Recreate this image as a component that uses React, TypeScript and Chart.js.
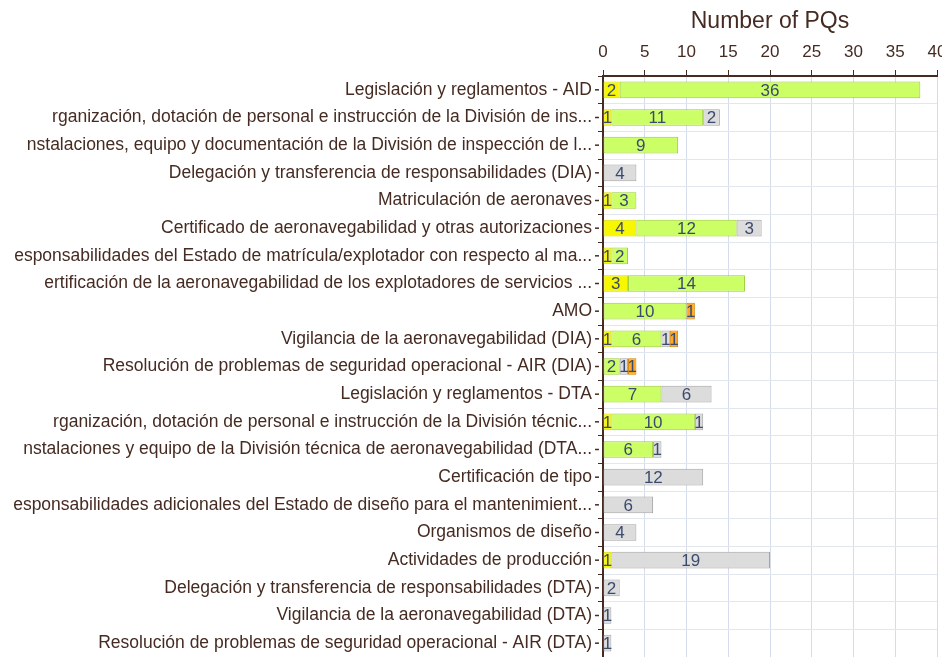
import React, { useEffect, useRef } from "react";
import { Chart, registerables } from "chart.js";

Chart.register(...registerables);

const categories = [
  "Legislación y reglamentos - AID",
  "rganización, dotación de personal e instrucción de la División de ins...",
  "nstalaciones, equipo y documentación de la División de inspección de l...",
  "Delegación y transferencia de responsabilidades (DIA)",
  "Matriculación de aeronaves",
  "Certificado de aeronavegabilidad y otras autorizaciones",
  "esponsabilidades del Estado de matrícula/explotador con respecto al ma...",
  "ertificación de la aeronavegabilidad de los explotadores de servicios ...",
  "AMO",
  "Vigilancia de la aeronavegabilidad (DIA)",
  "Resolución de problemas de seguridad operacional - AIR (DIA)",
  "Legislación y reglamentos - DTA",
  "rganización, dotación de personal e instrucción de la División técnic...",
  "nstalaciones y equipo de la División técnica de aeronavegabilidad (DTA...",
  "Certificación de tipo",
  "esponsabilidades adicionales del Estado de diseño para el mantenimient...",
  "Organismos de diseño",
  "Actividades de producción",
  "Delegación y transferencia de responsabilidades (DTA)",
  "Vigilancia de la aeronavegabilidad (DTA)",
  "Resolución de problemas de seguridad operacional - AIR (DTA)",
];

const yellowValues = [2, 1, 0, 0, 1, 4, 1, 3, 0, 1, 0, 0, 1, 0, 0, 0, 0, 1, 0, 0, 0];
const greenValues = [36, 11, 9, 0, 3, 12, 2, 14, 10, 6, 2, 7, 10, 6, 0, 0, 0, 0, 0, 0, 0];
const grayValues = [0, 2, 0, 4, 0, 3, 0, 0, 0, 1, 1, 6, 1, 1, 12, 6, 4, 19, 2, 1, 1];
const orangeValues = [0, 0, 0, 0, 0, 0, 0, 0, 1, 1, 1, 0, 0, 0, 0, 0, 0, 0, 0, 0, 0];

const xTicks = [0, 5, 10, 15, 20, 25, 30, 35, 40];

const TEXT = "#452b22";
const FONT = "'Liberation Sans', Arial, sans-serif";

const labelPlugin = {
  id: "segLabels",
  afterDatasetsDraw(chart: any) {
    const ctx = chart.ctx;
    ctx.save();
    ctx.font = `17px ${FONT}`;
    ctx.fillStyle = "#3c4a6e";
    ctx.textAlign = "center";
    ctx.textBaseline = "middle";
    chart.data.datasets.forEach((ds: any, di: number) => {
      const meta = chart.getDatasetMeta(di);
      meta.data.forEach((bar: any, i: number) => {
        const v = ds.data[i];
        if (!v) return;
        const cx = (bar.x + bar.base) / 2;
        ctx.fillText(String(v), cx, bar.y + 1);
      });
    });
    const ys = chart.scales.y;
    ctx.strokeStyle = TEXT;
    ctx.lineWidth = 1.5;
    categories.forEach((_, i) => {
      const y = ys.getPixelForValue(i);
      ctx.beginPath();
      ctx.moveTo(ys.right - 8, y);
      ctx.lineTo(ys.right - 4, y);
      ctx.stroke();
    });
    ctx.restore();
  },
};

export default function App() {
  const ref = useRef<HTMLCanvasElement | null>(null);
  useEffect(() => {
    if (!ref.current) return;
    const mk = (label: string, data: number[], bg: string, bd: string) => ({
      label,
      data,
      backgroundColor: bg,
      borderColor: bd,
      borderWidth: 1,
      borderSkipped: false,
      barPercentage: 0.6,
      categoryPercentage: 1,
    });
    const chart = new Chart(ref.current, {
      type: "bar",
      data: {
        labels: categories,
        datasets: [
          mk("Series 1", yellowValues, "#f7f700", "#d8d800"),
          mk("Series 2", greenValues, "#ccff66", "#9acd32"),
          mk("Series 3", grayValues, "#dcdcdc", "#a4a4a4"),
          mk("Series 4", orangeValues, "#ffa726", "#d08000"),
        ],
      },
      options: {
        indexAxis: "y",
        animation: false,
        responsive: true,
        maintainAspectRatio: false,
        layout: { padding: 0 },
        plugins: { legend: { display: false }, tooltip: { enabled: false } },
        scales: {
          x: {
            position: "top",
            stacked: true,
            min: 0,
            max: 40,
            afterBuildTicks: (s: any) => {
              s.ticks = xTicks.map((v) => ({ value: v }));
            },
            afterFit: (s: any) => {
              s.paddingRight = 5;
              s.paddingLeft = 0;
            },
            title: {
              display: true,
              text: "Number of PQs",
              color: TEXT,
              font: { size: 23, family: FONT },
              padding: { top: 8, bottom: 0 },
            },
            ticks: { color: TEXT, font: { size: 17, family: FONT }, padding: 7 },
            grid: { color: "#d5dcec", tickColor: TEXT, tickLength: 6, lineWidth: 1 },
            border: { color: TEXT, width: 2 },
          },
          y: {
            stacked: true,
            afterFit: (s: any) => {
              s.width = 603;
              s.paddingTop = 0;
              s.paddingBottom = 0;
            },
            ticks: { color: TEXT, font: { size: 17.5, family: FONT }, padding: 6, autoSkip: false },
            grid: { color: "#e2e6ee", tickColor: TEXT, tickLength: 5, offset: true, lineWidth: 1 },
            border: { color: TEXT, width: 2 },
          },
        },
      },
      plugins: [labelPlugin],
    });
    return () => chart.destroy();
  }, []);
  return (
    <div style={{ position: "fixed", left: 0, top: 0, width: 942, height: 657, background: "#fff" }}>
      <canvas ref={ref} />
    </div>
  );
}
